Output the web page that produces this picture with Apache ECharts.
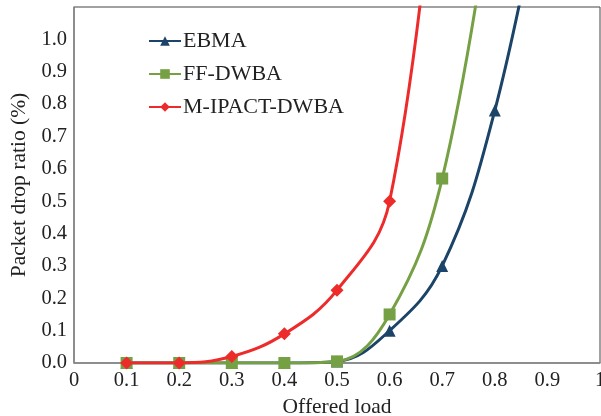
<!DOCTYPE html>
<html><head><meta charset="utf-8">
<script src="https://cdn.jsdelivr.net/npm/echarts@6/dist/echarts.min.js"></script>
<style>html,body{margin:0;padding:0;background:#fff}#c{width:601px;height:416px}</style>
</head><body><div id="c"></div>
<script>
var loads = [0.1, 0.2, 0.3, 0.4, 0.5, 0.6, 0.7, 0.8, 0.9];
var ebma = [0, 0, 0, 0, 0.005, 0.1, 0.3, 0.78, 1.55];
var ffdwba = [0, 0, 0, 0, 0.005, 0.15, 0.57, 1.5];
var mipact = [0, 0, 0.02, 0.09, 0.225, 0.5, 1.8];
var markedCount = {EBMA: 8, 'FF-DWBA': 7, 'M-IPACT-DWBA': 6};
var xTicks = ['0','0.1','0.2','0.3','0.4','0.5','0.6','0.7','0.8','0.9','1'];

function build(name, vals) {
  return vals.map(function (v, i) {
    var d = {value: [loads[i], v]};
    if (i >= markedCount[name]) d.symbol = 'none';
    return d;
  });
}
var font = "'Liberation Serif', 'Times New Roman', serif";
var chart = echarts.init(document.getElementById('c'));
chart.setOption({
  animation: false,
  grid: {left: 74, right: 1, top: 7, bottom: 53, show: true, borderColor: '#444', borderWidth: 1,
    containLabel: false, outerBoundsMode: 'none'},
  legend: {
    orient: 'vertical', left: 143, top: 25, itemGap: 11, itemWidth: 32, itemHeight: 12,
    textStyle: {fontFamily: font, fontSize: 22, color: '#222', padding: [0, 0, 0, -3]},
    data: ['EBMA', 'FF-DWBA', 'M-IPACT-DWBA']
  },
  xAxis: {
    type: 'value', min: 0, max: 1, interval: 0.1,
    name: 'Offered load', nameLocation: 'middle', nameGap: 30,
    nameTextStyle: {fontFamily: font, fontSize: 21.5, color: '#222'},
    axisLine: {show: true, lineStyle: {color: '#888', width: 1.5}},
    axisTick: {show: false}, splitLine: {show: false},
    axisLabel: {fontFamily: font, fontSize: 20.5, color: '#222', margin: 7,
      formatter: function (v) { return xTicks[Math.round(v * 10)]; }}
  },
  yAxis: {
    type: 'value', min: 0, max: 1.1, interval: 0.1,
    name: 'Packet drop ratio (%)', nameLocation: 'middle', nameGap: 44,
    nameTextStyle: {fontFamily: font, fontSize: 21.5, color: '#222'},
    axisLine: {show: true, lineStyle: {color: '#888', width: 1.5}},
    axisTick: {show: false}, splitLine: {show: false},
    axisLabel: {fontFamily: font, fontSize: 20.5, color: '#222', margin: 7,
      formatter: function (v) { return v > 1.05 ? '' : v.toFixed(1); }}
  },
  series: [
    {name: 'EBMA', type: 'line', smooth: 0.4, data: build('EBMA', ebma), symbol: 'triangle', symbolSize: 12,
      z: 2, lineStyle: {width: 3, color: '#1b4468'}, itemStyle: {color: '#1b4468'}},
    {name: 'FF-DWBA', type: 'line', smooth: 0.4, data: build('FF-DWBA', ffdwba), symbol: 'rect', symbolSize: 12,
      z: 3, lineStyle: {width: 3, color: '#76a044'}, itemStyle: {color: '#76a044'}},
    {name: 'M-IPACT-DWBA', type: 'line', smooth: 0.4, data: build('M-IPACT-DWBA', mipact), symbol: 'diamond', symbolSize: 13,
      z: 4, lineStyle: {width: 3, color: '#ee2b2b'}, itemStyle: {color: '#ee2b2b'}}
  ]
});
</script></body></html>
